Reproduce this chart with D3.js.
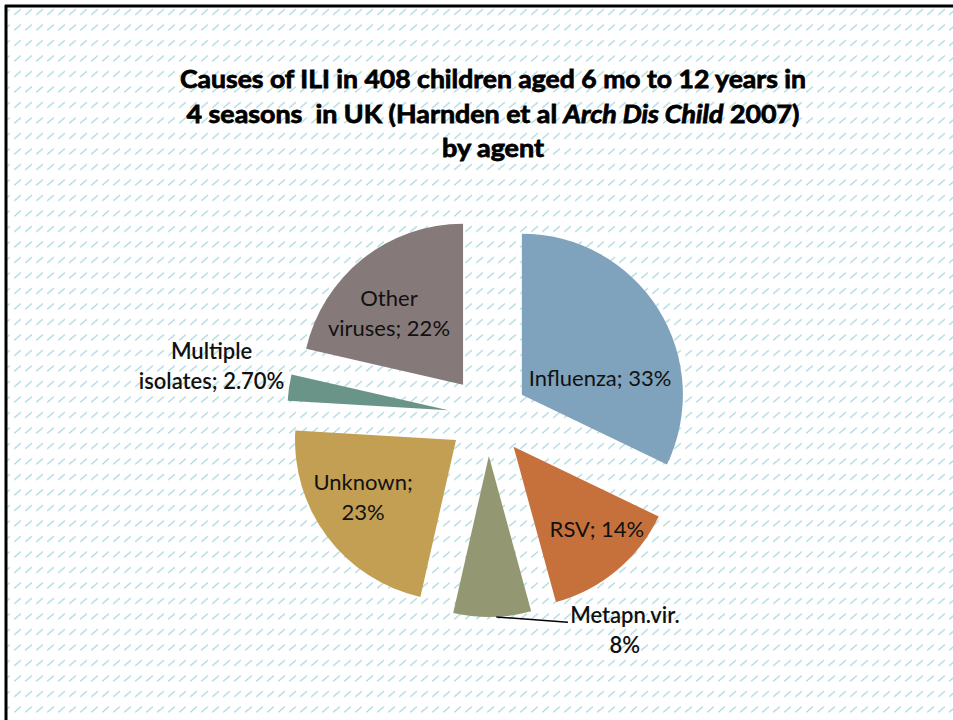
<!DOCTYPE html>
<html><head><meta charset="utf-8">
<script src="https://cdn.jsdelivr.net/npm/d3@7/dist/d3.min.js"></script>
<style>html,body{margin:0;padding:0;background:#fff;overflow:hidden} text{white-space:pre}</style>
</head><body>
<svg id="c" width="953" height="720"></svg>
<script>
const categories = ["Influenza", "RSV", "Metapn.vir.", "Unknown", "Multiple isolates", "Other viruses"];
const values = [33, 14, 8, 23, 2.7, 22];
const valueLabels = ["33%", "14%", "8%", "23%", "2.70%", "22%"];
const labelLines = [["Influenza; 33%"], ["RSV; 14%"], ["Metapn.vir.", "8%"], ["Unknown;", "23%"], ["Multiple", "isolates; 2.70%"], ["Other", "viruses; 22%"]];
const colors = ["#7fa2bd", "#c6703c", "#939872", "#c29f52", "#6b9488", "#857a79"];
const titleLines = [
  [["Causes of ILI in 408 children aged 6 mo to 12 years in", false]],
  [["4 seasons  in UK (Harnden et al ", false], ["Arch Dis Child", true], [" 2007)", false]],
  [["by agent", false]]
];

const svg = d3.select("#c");
const W = 953, H = 720;
const defs = svg.append("defs");
const pat = defs.append("pattern").attr("id", "hatch").attr("patternUnits", "userSpaceOnUse")
  .attr("width", 11).attr("height", 15.5).attr("x", 2).attr("y", 2);
pat.append("line").attr("x1", 1.5).attr("y1", 12.5).attr("x2", 7.5).attr("y2", 7.5)
  .attr("stroke", "#a9d8df").attr("stroke-width", 1.3).attr("stroke-linecap", "round");

svg.append("rect").attr("width", W).attr("height", H).attr("fill", "#fff");
svg.append("rect").attr("x", 6).attr("y", 6).attr("width", W).attr("height", H).attr("fill", "url(#hatch)");
svg.append("line").attr("x1", 5).attr("y1", 6).attr("x2", W).attr("y2", 6).attr("stroke", "#000").attr("stroke-width", 3);
svg.append("line").attr("x1", 6).attr("y1", 5).attr("x2", 6).attr("y2", H).attr("stroke", "#000").attr("stroke-width", 3);

// Title
const titleBase = [88, 123, 157];
const titleWidths = [626, 613, 102];
titleLines.forEach((parts, i) => {
  const t = svg.append("text").attr("x", 493).attr("y", titleBase[i])
    .attr("text-anchor", "middle").attr("font-family", "Lato, 'Open Sans', sans-serif")
    .attr("font-weight", "bold").attr("font-size", 25).attr("fill", "#000")
    .attr("stroke", "#000").attr("stroke-width", 0.8)
    .attr("textLength", titleWidths[i]).attr("lengthAdjust", "spacingAndGlyphs");
  parts.forEach(p => {
    t.append("tspan").text(p[0]).attr("font-style", p[1] ? "italic" : "normal");
  });
});

// Pie
const cx = 488, cy = 416, R = 161, explode = 40;
const pie = d3.pie().sort(null).value(d => d)(values);
const arc = d3.arc().innerRadius(0).outerRadius(R);
const g = svg.append("g").attr("transform", `translate(${cx},${cy})`);
const offset = d => {
  const a = (d.startAngle + d.endAngle) / 2;
  return [explode * Math.sin(a), -explode * Math.cos(a)];
};
g.selectAll("path.slice").data(pie).join("path").attr("class", "slice")
  .attr("d", arc).attr("fill", (d, i) => colors[i])
  .attr("transform", d => { const o = offset(d); return `translate(${o[0]},${o[1]})`; });

// Label placement (polar offsets relative to each exploded slice apex: angle deg, radius px)
const labelPlace = [[77.7, 80], [134.6, 117], [142, 221], [238.5, 109], [280.7, 241], [314, 103]];
const outside = [false, false, true, false, true, false];
const lineH = 30;
pie.forEach((d, i) => {
  const o = offset(d);
  const a = labelPlace[i][0] * Math.PI / 180, r = labelPlace[i][1];
  const lx = cx + o[0] + r * Math.sin(a), ly = cy + o[1] - r * Math.cos(a);
  const lines = labelLines[i];
  const t = svg.append("text").attr("text-anchor", "middle")
    .attr("font-family", "Lato, 'Open Sans', sans-serif").attr("font-size", 22)
    .attr("font-weight", outside[i] ? 600 : 400).attr("fill", "#111");
  lines.forEach((ln, k) => {
    t.append("tspan").attr("x", lx).attr("y", ly + (k - (lines.length - 1) / 2) * lineH + 8).text(ln);
  });
  if (i === 2) {
    const m = (d.startAngle + d.endAngle) / 2;
    const ex = cx + o[0] + R * Math.sin(m) + 4;
    const ey = cy + o[1] - R * Math.cos(m);
    svg.append("path").attr("d", `M${ex},${ey} L${lx - 57},${ly - 8}`)
      .attr("stroke", "#000").attr("stroke-width", 1.5).attr("fill", "none");
  }
});
</script>
</body></html>
